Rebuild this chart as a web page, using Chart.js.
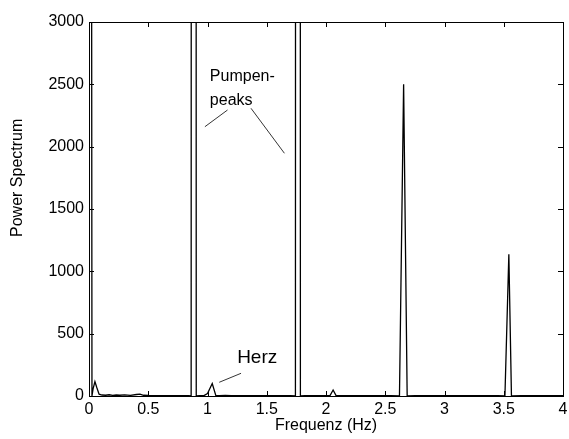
<!DOCTYPE html>
<html>
<head>
<meta charset="utf-8">
<script src="https://cdn.jsdelivr.net/npm/chart.js@4.4.0/dist/chart.umd.min.js"></script>
<style>
  html, body { margin: 0; padding: 0; background: #fff; }
  #wrap { width: 569px; height: 439px; }
</style>
</head>
<body>
<div id="wrap"><canvas id="spectrum"></canvas></div>
<script>
// frequency (Hz) and power; the pump peaks run far off the top
const freq = [0, 0.025, 0.035, 0.05, 0.065, 0.085, 0.11, 0.14, 0.17, 0.2, 0.23, 0.26, 0.3, 0.35,
  0.4, 0.43, 0.46, 0.5, 0.55, 0.6, 0.65, 0.7, 0.75, 0.8, 0.84, 0.862, 0.883, 0.905, 0.93,
  0.97, 1.0, 1.04, 1.07, 1.1, 1.15, 1.2, 1.3, 1.4, 1.5, 1.6, 1.7, 1.742, 1.763, 1.784, 1.82,
  1.9, 2.0, 2.035, 2.06, 2.085, 2.15, 2.25, 2.35, 2.45, 2.55, 2.62, 2.655, 2.685, 2.75, 2.85,
  2.95, 3.05, 3.15, 3.25, 3.35, 3.45, 3.51, 3.543, 3.565, 3.65, 3.75, 3.85, 4.0];
const power = [30000, 0, 60, 115, 70, 15, 8, 6, 10, 5, 8, 6, 9, 5,
  12, 15, 6, 4, 3, 3, 2, 3, 2, 3, 3, 0, 100000, 0, 3,
  3, 20, 100, 5, 3, 4, 2, 3, 2, 3, 2, 3, 0, 100000, 0, 3,
  2, 3, 5, 48, 3, 2, 3, 2, 2, 3, 0, 2500, 0, 2, 3,
  2, 2, 3, 2, 2, 3, 0, 1136, 0, 2, 2, 2, 2];
const xTicks = [0, 0.5, 1, 1.5, 2, 2.5, 3, 3.5, 4];
const yTicks = [0, 500, 1000, 1500, 2000, 2500, 3000];

const points = freq.map((f, i) => ({x: f, y: power[i]}));

// matlab style frame with inward ticks on all sides, plus the text notes
const framePlugin = {
  id: 'frame',
  afterDraw(chart) {
    const {ctx, chartArea: a, scales} = chart;
    const sx = scales.x, sy = scales.y;
    ctx.save();
    ctx.strokeStyle = '#000';
    ctx.lineWidth = 1;
    ctx.strokeRect(a.left + 0.5, a.top + 0.5, a.right - a.left, a.bottom - a.top);
    ctx.beginPath();
    xTicks.forEach(t => {
      const px = Math.round(sx.getPixelForValue(t)) + 0.5;
      ctx.moveTo(px, a.bottom); ctx.lineTo(px, a.bottom - 5);
      ctx.moveTo(px, a.top); ctx.lineTo(px, a.top + 5);
    });
    yTicks.forEach(t => {
      const py = Math.round(sy.getPixelForValue(t)) + 0.5;
      ctx.moveTo(a.left, py); ctx.lineTo(a.left + 5, py);
      ctx.moveTo(a.right, py); ctx.lineTo(a.right - 5, py);
    });
    ctx.stroke();

    const P = (x, y) => [sx.getPixelForValue(x), sy.getPixelForValue(y)];
    ctx.fillStyle = '#000';
    ctx.textBaseline = 'middle';
    ctx.textAlign = 'left';
    ctx.font = '16px "Liberation Sans", Arial, sans-serif';
    let p = P(1.02, 2560);
    ctx.fillText('Pumpen-', p[0], p[1]);
    p = P(1.02, 2370);
    ctx.fillText('peaks', p[0], p[1]);
    ctx.font = '19px "Liberation Sans", Arial, sans-serif';
    p = P(1.25, 305);
    ctx.fillText('Herz', p[0], p[1]);

    // y axis title, sitting a little above the middle as in the source
    ctx.font = '16px "Liberation Sans", Arial, sans-serif';
    ctx.textAlign = 'center';
    ctx.translate(18, sy.getPixelForValue(1750));
    ctx.rotate(-Math.PI / 2);
    ctx.fillText('Power Spectrum', 0, 0);
    ctx.setTransform(1, 0, 0, 1, 0, 0);

    ctx.lineWidth = 0.8;
    ctx.beginPath();
    [[0.978, 2160, 1.169, 2294], [1.367, 2308, 1.649, 1947], [1.099, 110, 1.283, 182]].forEach(l => {
      const a1 = P(l[0], l[1]), b1 = P(l[2], l[3]);
      ctx.moveTo(a1[0], a1[1]); ctx.lineTo(b1[0], b1[1]);
    });
    ctx.stroke();
    ctx.restore();
  }
};

const tickFont = {family: '"Liberation Sans", Arial, sans-serif', size: 16};

new Chart(document.getElementById('spectrum'), {
  type: 'scatter',
  data: {
    datasets: [{
      data: points,
      showLine: true,
      borderColor: '#000',
      borderWidth: 1.3,
      pointRadius: 0,
      tension: 0
    }]
  },
  options: {
    responsive: true,
    maintainAspectRatio: false,
    animation: false,
    layout: {padding: {top: 22, right: 6, left: 0, bottom: 0}},
    plugins: {legend: {display: false}, tooltip: {enabled: false}},
    scales: {
      x: {
        type: 'linear', min: 0, max: 4,
        afterBuildTicks: s => { s.ticks = xTicks.map(v => ({value: v})); },
        afterFit: s => { s.height = 43; s.paddingLeft = 0; s.paddingRight = 0; },
        grid: {display: false, drawTicks: false},
        border: {display: false},
        ticks: {color: '#000', font: tickFont, padding: 4, maxRotation: 0, callback: v => String(v)},
        title: {display: true, text: 'Frequenz (Hz)', color: '#000', font: tickFont, padding: {top: 0, bottom: 4}}
      },
      y: {
        type: 'linear', min: 0, max: 3000,
        afterBuildTicks: s => { s.ticks = yTicks.map(v => ({value: v})); },
        afterFit: s => { s.width = 89; s.paddingTop = 0; s.paddingBottom = 0; },
        grid: {display: false, drawTicks: false},
        border: {display: false},
        ticks: {color: '#000', font: tickFont, padding: 5, callback: v => String(v)},
        title: {display: false}
      }
    }
  },
  plugins: [framePlugin]
});
</script>
</body>
</html>
